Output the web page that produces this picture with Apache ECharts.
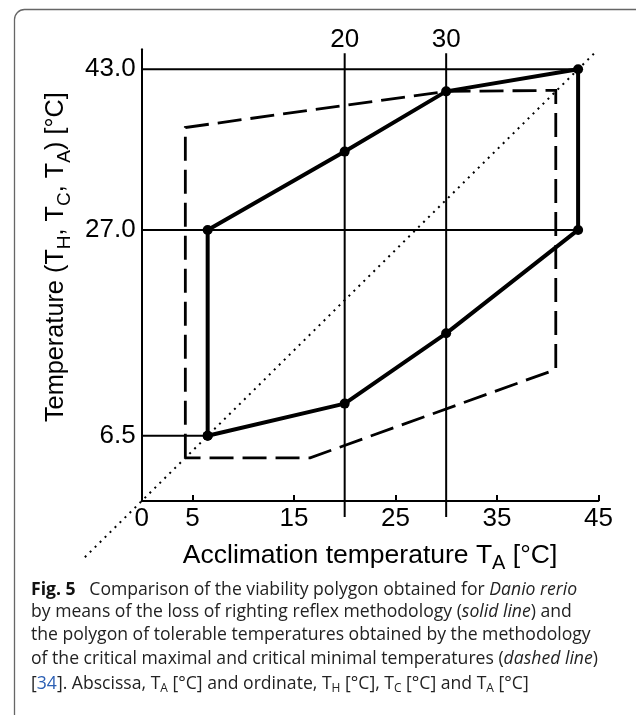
<!DOCTYPE html>
<html>
<head>
<meta charset="utf-8">
<title>Viability polygon - Danio rerio</title>
<style>
  html, body { margin: 0; padding: 0; background: #fff; }
  #chart { width: 636px; height: 715px; }
</style>
<script src="https://cdn.jsdelivr.net/npm/echarts@6/dist/echarts.min.js"></script>
</head>
<body>
<div id="chart"></div>
<script>
// viability polygon, loss of righting reflex (solid line)
var solidX = [6.5, 6.5, 20, 30, 43, 43, 30, 20, 6.5];
var solidY = [6.5, 27.0, 34.8, 40.8, 43.0, 27.0, 16.7, 9.7, 6.5];

// polygon of CTmax / CTmin (dashed line)
var dashedX = [4.3, 4.3, 30, 40.8, 40.8, 16.6, 4.3];
var dashedY = [4.3, 37.2, 40.8, 40.9, 13.1, 4.3, 4.3];

// dotted diagonal T = TA
var diagX = [-5.6, 44.9];
var diagY = [-5.6, 44.9];

// thin guide lines
var guideY = [6.5, 27.0, 43.0];
var guideYEnd = [6.5, 43, 43];
var guideX = [20, 30];
var guideXRange = [-1.6, 44.6];

// tick labels
var xTicks = [5, 15, 25, 35, 45];
var xLabels = [0, 5, 15, 25, 35, 45];
var xTopLabels = [20, 30];
var yLabels = [6.5, 27.0, 43.0];

var FONT = 'Liberation Sans, Arial, Helvetica, sans-serif';
var CAP_FONT = 'Open Sans, Noto Sans, sans-serif';

function pairs(xs, ys) {
    return xs.map(function (x, i) { return [x, ys[i]]; });
}

var chart = echarts.init(document.getElementById('chart'), null, { renderer: 'canvas' });

var series = [];

guideY.forEach(function (y, i) {
    series.push({
        type: 'line',
        data: [[0, y], [guideYEnd[i], y]],
        symbol: 'none',
        lineStyle: { color: '#000', width: 2 },
        z: 1
    });
});
guideX.forEach(function (x) {
    series.push({
        type: 'line',
        data: [[x, guideXRange[0]], [x, guideXRange[1]]],
        symbol: 'none',
        clip: false,
        lineStyle: { color: '#000', width: 2 },
        z: 1
    });
});

// diagonal, runs past the axes on both ends
series.push({
    type: 'custom',
    clip: false,
    z: 2,
    data: [[diagX[0], diagY[0], diagX[1], diagY[1]]],
    encode: { x: [0, 2], y: [1, 3] },
    renderItem: function (params, api) {
        var a = api.coord([api.value(0), api.value(1)]);
        var b = api.coord([api.value(2), api.value(3)]);
        return {
            type: 'line',
            shape: { x1: a[0], y1: a[1], x2: b[0], y2: b[1] },
            style: { stroke: '#000', lineWidth: 2, lineDash: [2, 5], fill: null }
        };
    }
});

// dashed polygon
series.push({
    type: 'line',
    data: pairs(dashedX, dashedY),
    symbol: 'none',
    lineStyle: { color: '#000', width: 2.8, type: [24, 9], cap: 'butt', join: 'miter' },
    z: 3
});

// solid polygon
series.push({
    type: 'line',
    data: pairs(solidX, solidY),
    symbol: 'circle',
    symbolSize: 10,
    showSymbol: true,
    itemStyle: { color: '#000' },
    lineStyle: { color: '#000', width: 4, join: 'round' },
    z: 4
});

function subRich(size) {
    return {
        s: { fontSize: size, fontFamily: FONT, color: '#000', lineHeight: size, verticalAlign: 'bottom' }
    };
}

chart.setOption({
    animation: false,
    backgroundColor: '#fff',
    grid: {
        left: 141.7,
        right: 37.6,
        top: 49.2,
        bottom: 214,
        containLabel: false,
        outerBoundsMode: 'none'
    },
    xAxis: [{
        type: 'value',
        min: 0,
        max: 45,
        position: 'bottom',
        axisLine: { show: true, onZero: false, lineStyle: { color: '#000', width: 2 } },
        axisTick: {
            show: true, inside: true, length: 6,
            customValues: xTicks,
            lineStyle: { color: '#000', width: 2 }
        },
        axisLabel: {
            customValues: xLabels,
            showMinLabel: true,
            showMaxLabel: true,
            margin: 5,
            fontSize: 26,
            fontFamily: FONT,
            color: '#000'
        },
        splitLine: { show: false },
        name: 'Acclimation temperature T{s|A} [°C]',
        nameLocation: 'middle',
        nameGap: 32,
        nameTextStyle: {
            fontSize: 26.5, fontFamily: FONT, color: '#000', lineHeight: 37,
            rich: subRich(20)
        }
    }, {
        type: 'value',
        min: 0,
        max: 45,
        position: 'top',
        axisLine: { show: false },
        axisTick: { show: false },
        splitLine: { show: false },
        axisLabel: {
            customValues: xTopLabels,
            margin: -4,
            fontSize: 26,
            fontFamily: FONT,
            color: '#000'
        }
    }],
    yAxis: {
        type: 'value',
        min: 0,
        max: 45,
        axisLine: { show: true, onZero: false, lineStyle: { color: '#000', width: 2 } },
        axisTick: { show: false },
        axisLabel: {
            customValues: yLabels,
            formatter: function (v) { return v.toFixed(1); },
            margin: 6,
            fontSize: 26,
            fontFamily: FONT,
            color: '#000'
        },
        splitLine: { show: false },
        name: 'Temperature (T{s|H}, T{s|C}, T{s|A}) [°C]',
        nameLocation: 'middle',
        nameRotate: 90,
        nameGap: 66,
        nameTextStyle: {
            fontSize: 25.3, fontFamily: FONT, color: '#000', lineHeight: 36,
            padding: [0, 0, 0, 36],
            rich: subRich(19)
        }
    },
    graphic: [
        // rounded figure frame, cut at right and bottom
        {
            type: 'rect',
            silent: true,
            shape: { x: 14.5, y: 9.5, width: 700, height: 800, r: 10 },
            style: { fill: 'none', stroke: '#666', lineWidth: 1.3 }
        }
    ].concat(captionLines()),
    series: series
});

function captionLines() {
    var size = 17.6;
    var rich = {
        b: { fontSize: size, fontFamily: CAP_FONT, fontWeight: 'bold', fill: '#111' },
        i: { fontSize: size, fontFamily: CAP_FONT, fontStyle: 'italic', fill: '#222' },
        l: { fontSize: size, fontFamily: CAP_FONT, fill: '#2b5fb4' },
        s: { fontSize: 12, fontFamily: CAP_FONT, fill: '#222', lineHeight: 12, verticalAlign: 'bottom' },
        n: { fontSize: size, fontFamily: CAP_FONT, fill: '#222', lineHeight: 23 }
    };
    var lines = [
        '{b|Fig. 5}{n|   Comparison of the viability polygon obtained for }{i|Danio rerio}',
        '{n|by means of the loss of righting reflex methodology (}{i|solid line}{n|) and}',
        '{n|the polygon of tolerable temperatures obtained by the methodology}',
        '{n|of the critical maximal and critical minimal temperatures (}{i|dashed line}{n|)}',
        '{n|[}{l|34}{n|]. Abscissa, T}{s|A}{n| [°C] and ordinate, T}{s|H}{n| [°C], T}{s|C}{n| [°C] and T}{s|A}{n| [°C]}'
    ];
    var baselines = [596.7, 618.5, 641.7, 665, 690];
    return lines.map(function (t, k) {
        return {
            type: 'text',
            silent: true,
            x: 31,
            y: baselines[k] - 6.5,
            style: {
                text: t,
                fontSize: size,
                fontFamily: CAP_FONT,
                fill: '#222',
                align: 'left',
                verticalAlign: 'middle',
                rich: rich
            }
        };
    });
}
</script>
</body>
</html>
